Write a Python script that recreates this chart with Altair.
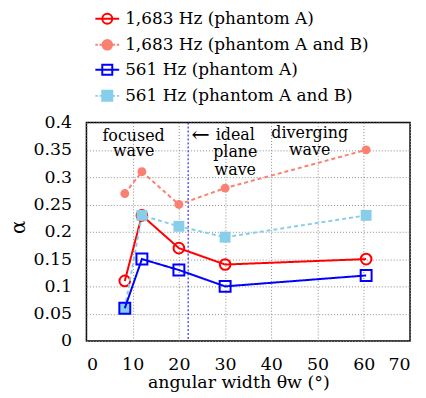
import altair as alt
import pandas as pd

# ---- data ----
angles = [8.3, 12, 20, 30, 60.5]
alpha_1683_A = [0.11, 0.23, 0.17, 0.14, 0.15]
alpha_1683_AB = [0.27, 0.31, 0.25, 0.28, 0.35]
alpha_561_A = [0.06, 0.15, 0.13, 0.10, 0.12]
alpha_561_AB = [0.06, 0.23, 0.21, 0.19, 0.23]

series_names = [
    "1,683 Hz (phantom A)",
    "1,683 Hz (phantom A and B)",
    "561 Hz (phantom A)",
    "561 Hz (phantom A and B)",
]
series_values = [alpha_1683_A, alpha_1683_AB, alpha_561_A, alpha_561_AB]

x_ticks = [0, 10, 20, 30, 40, 50, 60, 70]
y_ticks = [0, 0.05, 0.1, 0.15, 0.2, 0.25, 0.3, 0.35, 0.4]

ideal_angle = [22]

annot_labels = ["focused\nwave", "ideal\nplane\nwave", "diverging\nwave"]
annot_x = [10.2, 32.2, 48.3]
annot_y = [0.367, 0.369, 0.371]
annot_lh = [16, 18, 17]

arrow_x = [24.7]
arrow_y = [0.378]

# ---- styles ----
colors = ["#ff0000", "#fa8072", "#0000ff", "#87ceeb"]
dashes = [[1, 0], [4, 3], [1, 0], [4, 3]]
shapes = ["circle", "circle", "square", "square"]
filled = [False, True, False, True]
sizes = [115, 80, 121, 120]
draw_order = [0, 1, 3, 2]

legend_paths = [
    "M-1,0H1M-0.42,0A0.42,0.42,0,1,1,0.42,0A0.42,0.42,0,1,1,-0.42,0",
    "M-1,0H-0.8M-0.65,0H-0.45M0.45,0H0.65M0.8,0H1M-0.4,0A0.4,0.4,0,1,1,0.4,0A0.4,0.4,0,1,1,-0.4,0",
    "M-1,0H1M-0.42,-0.42H0.42V0.42H-0.42Z",
    "M-1,0H-0.8M-0.65,0H-0.45M0.45,0H0.65M0.8,0H1M-0.42,-0.42H0.42V0.42H-0.42Z",
]
legend_fills = ["transparent", colors[1], "transparent", colors[3]]

FONT = "DejaVu Serif"

rows = []
for name, vals in zip(series_names, series_values):
    for a, v in zip(angles, vals):
        rows.append({"series": name, "angle": a, "alpha": v})
df = pd.DataFrame(rows)

x_enc = alt.X(
    "angle:Q",
    scale=alt.Scale(domain=[0, 70], nice=False, zero=False),
    axis=alt.Axis(
        values=x_ticks, format="d", title="angular width θw (°)",
        labelFont=FONT, labelFontSize=17.5, labelBaseline="alphabetic", labelPadding=29,
        labelColor="black", ticks=False, domain=False,
        grid=True, gridColor="#8a8a8a", gridDash=[1, 2], gridWidth=1,
        titleFont=FONT, titleFontSize=17.5, titleFontWeight="normal", titleColor="black",
        titleX=153, titleY=47, titleBaseline="alphabetic", titleAlign="center",
    ),
)
y_enc = alt.Y(
    "alpha:Q",
    scale=alt.Scale(domain=[0, 0.4], nice=False),
    axis=alt.Axis(
        values=y_ticks, format="~g", title="α",
        labelFont=FONT, labelFontSize=17.5, labelPadding=15, labelColor="black",
        ticks=False, domain=False,
        grid=True, gridColor="#8a8a8a", gridDash=[1, 2], gridWidth=1,
        titleFont=FONT, titleFontSize=20, titleFontWeight="normal", titleColor="black",
        titleX=-68, titleY=105, titleAngle=270, titleBaseline="middle", titleAlign="center",
    ),
)

layers = []

rule_df = pd.DataFrame({"angle": ideal_angle})
layers.append(
    alt.Chart(rule_df).mark_rule(color="#0000ff", strokeDash=[2, 2], strokeWidth=1).encode(x=x_enc)
)

for i in draw_order:
    name = series_names[i]
    sub = df[df.series == name]
    layers.append(
        alt.Chart(sub).mark_line(color=colors[i], strokeDash=dashes[i], strokeWidth=2).encode(x=x_enc, y=y_enc)
    )
    layers.append(
        alt.Chart(sub).mark_point(
            shape=shapes[i], filled=filled[i], color=colors[i], size=sizes[i],
            strokeWidth=2, opacity=1,
        ).encode(x=x_enc, y=y_enc)
    )

for lab, ax, ay, lh in zip(annot_labels, annot_x, annot_y, annot_lh):
    adf = pd.DataFrame({"angle": [ax], "alpha": [ay], "label": [lab]})
    layers.append(
        alt.Chart(adf).mark_text(
            font=FONT, fontSize=16, align="center", baseline="alphabetic",
            lineBreak="\n", lineHeight=lh, color="black",
        ).encode(x=x_enc, y=y_enc, text="label:N")
    )

arr_df = pd.DataFrame({"angle": arrow_x, "alpha": arrow_y, "label": ["←"]})
layers.append(
    alt.Chart(arr_df).mark_text(font=FONT, fontSize=22, align="center", baseline="middle", color="black")
    .encode(x=x_enc, y=y_enc, text="label:N")
)

leg_df = pd.DataFrame({"series": series_names, "angle": [-100] * 4, "alpha": [-1] * 4})
leg = alt.Legend(
    title=None, orient="none", legendX=8, legendY=-117.5, direction="vertical",
    labelFont=FONT, labelFontSize=17, labelColor="black", labelLimit=400,
    symbolSize=576, symbolStrokeWidth=2, labelOffset=5, rowPadding=3.2, padding=0,
)
layers.append(
    alt.Chart(leg_df).mark_point(filled=False, clip=True, strokeWidth=2, opacity=1).encode(
        x=x_enc, y=y_enc,
        color=alt.Color("series:N", scale=alt.Scale(domain=series_names, range=colors), legend=leg),
        fill=alt.Fill("series:N", scale=alt.Scale(domain=series_names, range=legend_fills), legend=leg),
        shape=alt.Shape("series:N", scale=alt.Scale(domain=series_names, range=legend_paths), legend=leg),
    )
)

chart = alt.layer(*layers).properties(
    width=326, height=220,
    autosize=alt.AutoSizeParams(type="none"),
    padding={"left": 79, "top": 114, "right": 8, "bottom": 52},
    background="white",
).configure_view(stroke="black", strokeWidth=1.5)

chart.save("out.html", embed_options={"renderer": "svg", "actions": False})
